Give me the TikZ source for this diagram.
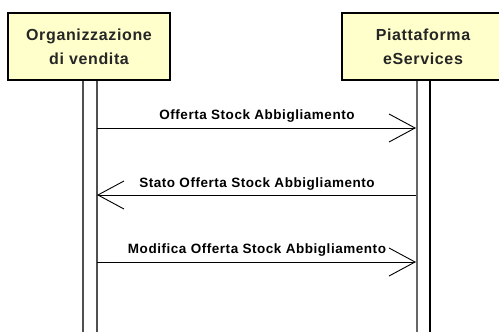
\documentclass[tikz,border=0pt]{standalone}
\usepackage{fontspec}
\setmainfont{Liberation Sans}
\newfontfamily\lblfont[LetterSpace=4]{Liberation Sans}
\usetikzlibrary{arrows.meta}
\definecolor{boxfill}{RGB}{255,255,204}
\definecolor{lifegray}{RGB}{80,80,80}
\tikzset{
  actorbox/.style={draw=black, line width=2pt, fill=boxfill, minimum width=162pt, minimum height=67pt,
    inner sep=0pt, align=center, font=\lblfont\bfseries\fontsize{16}{24}\selectfont, text=black!85},
  lifeline/.style={draw=lifegray, line width=1.4pt},
  msg/.style={draw=black, line width=0.9pt, -{Straight Barb[length=26pt, width=28pt, line width=0.9pt]}},
  msglabel/.style={anchor=base, inner sep=0pt, font=\lblfont\bfseries\fontsize{13.5}{16}\selectfont}
}
\begin{document}
\begin{tikzpicture}[x=1pt, y=-1pt]
\useasboundingbox (0,0) rectangle (499,332);
\begin{scope}
\clip (0,0) rectangle (499,332);
% lifelines
\coordinate (l1a) at (83,80);
\coordinate (l1b) at (97,80);
\coordinate (l1c) at (83,340);
\coordinate (l1d) at (97,340);
\coordinate (r1a) at (417,80);
\coordinate (r1b) at (430,80);
\coordinate (r1c) at (417,340);
\coordinate (r1d) at (430,340);
\draw[lifeline] (l1a) -- (l1c);
\draw[lifeline] (l1b) -- (l1d);
\draw[lifeline, draw=black!60, line width=2pt] (r1a) -- (r1c);
\draw[lifeline, draw=black] (r1b) -- (r1d);
% boxes
\node[actorbox] (org) at (89,46.5) {Organizzazione\\di vendita};
\node[actorbox] (piat) at (423,46.5) {Piattaforma\\eServices};
% messages
\coordinate (m1s) at (97,128);
\coordinate (m1e) at (416,128);
\coordinate (m2s) at (416,195);
\coordinate (m2e) at (97,195);
\coordinate (m3s) at (97,262);
\coordinate (m3e) at (416,262);
\draw[msg] (m1s) -- (m1e);
\draw[msg] (m2s) -- (m2e);
\draw[msg] (m3s) -- (m3e);
\node[msglabel] (t1) at (257,119) {Offerta Stock Abbigliamento};
\node[msglabel] (t2) at (257,187) {Stato Offerta Stock Abbigliamento};
\node[msglabel] (t3) at (257,253) {Modifica Offerta Stock Abbigliamento};
\end{scope}
\end{tikzpicture}
\end{document}
